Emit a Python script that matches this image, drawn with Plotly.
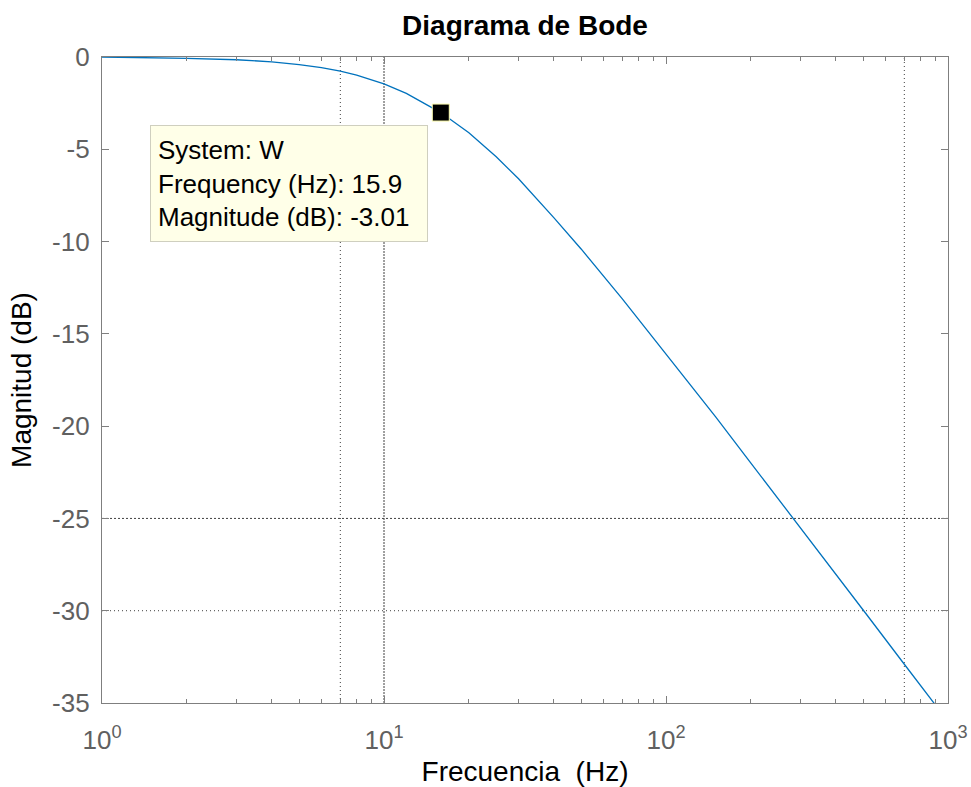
import plotly.graph_objects as go

# Magnitude response of system W (frequency in Hz, magnitude in dB)
freq_hz = [1, 1.5, 2, 3, 4, 5, 6, 7, 8, 10, 12, 15.9, 20, 25, 30, 40, 50,
           70, 100, 150, 200, 280, 400, 520, 700, 1000]
mag_db = [0.0, -0.04, -0.07, -0.15, -0.26, -0.41, -0.58, -0.77, -0.98, -1.46,
          -1.97, -3.01, -4.1, -5.4, -6.6, -8.7, -10.4, -13.1, -16.1, -19.5,
          -22.0, -24.9, -28.0, -30.3, -32.9, -36.0]

# Data tip
tip_system = "W"
tip_freq = 15.9
tip_mag = -3.01

# Axis ticks
x_tickvals = [1, 10, 100, 1000]
x_ticktext = ["10<sup>0</sup>", "10<sup>1</sup>", "10<sup>2</sup>", "10<sup>3</sup>"]
x_minor = [m * d for d in (1, 10, 100) for m in range(2, 10)]
y_tickvals = [0, -5, -10, -15, -20, -25, -30, -35]
y_ticktext = ["0", "-5", "-10", "-15", "-20", "-25", "-30", "-35"]

# Visible grid lines
vgrid = [(7, "1px,3px"), (10, "2px,1px"), (700, "1px,3px")]
hgrid = [(-25, "2px,2px"), (-30, "1px,3px")]

FONT = "Liberation Sans, Arial, sans-serif"
AXIS_GRAY = "#7f7f7f"
TICK_TEXT = "#606060"

fig = go.Figure()

fig.add_trace(go.Scatter(
    x=freq_hz, y=mag_db, mode="lines",
    line=dict(color="#0072BD", width=1.3),
    hoverinfo="skip", showlegend=False,
))

fig.add_trace(go.Scatter(
    x=[tip_freq], y=[tip_mag], mode="markers",
    marker=dict(symbol="square", size=17, color="black",
                line=dict(color="#FFFFB0", width=1)),
    hoverinfo="skip", showlegend=False, cliponaxis=False,
))

for xv, dash in vgrid:
    fig.add_shape(type="line", xref="x", yref="paper", x0=xv, x1=xv, y0=0, y1=1,
                  line=dict(color="#404040", width=1, dash=dash), layer="below")
for yv, dash in hgrid:
    fig.add_shape(type="line", xref="paper", yref="y", x0=0, x1=1, y0=yv, y1=yv,
                  line=dict(color="#404040", width=1, dash=dash), layer="below")

fig.add_annotation(
    xref="paper", yref="paper", x=(150 - 102) / 846, y=1 - (125 - 57) / 646,
    xanchor="left", yanchor="top", showarrow=False, align="left",
    text=f"System: {tip_system}<br>Frequency (Hz): {tip_freq}<br>Magnitude (dB): {tip_mag}",
    font=dict(family=FONT, size=26, color="black"),
    bgcolor="#FFFFE8", bordercolor="#CFCFBF", borderwidth=1, borderpad=7,
    width=262, height=101,
)

fig.update_layout(
    width=971, height=787,
    margin=dict(l=102, r=23, t=57, b=84),
    paper_bgcolor="white", plot_bgcolor="white",
    font=dict(family=FONT),
    title=dict(text="<b>Diagrama de Bode</b>", x=0.5, xref="paper",
               y=1 - 25 / 787, yref="container", yanchor="middle",
               font=dict(family=FONT, size=28, color="black")),
    xaxis=dict(
        type="log", range=[0, 3], automargin=False,
        tickvals=x_tickvals, ticktext=x_ticktext,
        ticks="inside", ticklen=7, tickwidth=1, tickcolor=AXIS_GRAY,
        showline=True, linecolor=AXIS_GRAY, linewidth=1.3, mirror="ticks",
        showgrid=False, zeroline=False, ticklabelstandoff=14,
        minor=dict(tickvals=x_minor, ticks="inside", ticklen=4,
                   tickcolor=AXIS_GRAY, showgrid=False),
        tickfont=dict(family=FONT, size=26, color=TICK_TEXT),
        title=dict(text="Frecuencia\u00a0 (Hz)",
                   font=dict(family=FONT, size=28, color="black"), standoff=10),
    ),
    yaxis=dict(
        range=[-35, 0], tickvals=y_tickvals, ticktext=y_ticktext, automargin=False,
        ticks="inside", ticklen=7, tickwidth=1, tickcolor=AXIS_GRAY,
        showline=True, linecolor=AXIS_GRAY, linewidth=1.3, mirror="ticks",
        showgrid=False, zeroline=False, ticklabelstandoff=6,
        tickfont=dict(family=FONT, size=26, color=TICK_TEXT),
        title=dict(text="Magnitud (dB)",
                   font=dict(family=FONT, size=28, color="black"), standoff=12),
    ),
)

fig.write_html("out.html")
